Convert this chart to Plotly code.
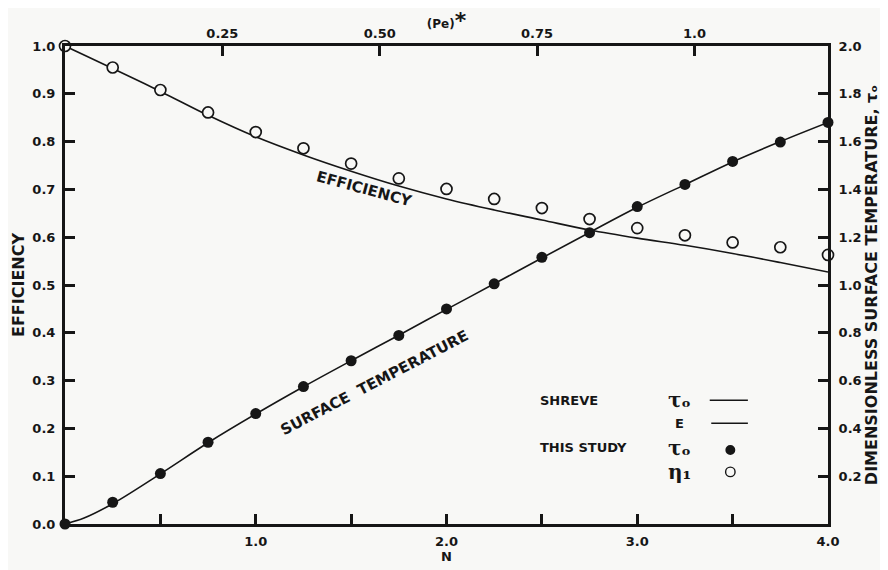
import plotly.graph_objects as go

# ---- data ----
N_pts = [0.0, 0.25, 0.5, 0.75, 1.0, 1.25, 1.5, 1.75, 2.0, 2.25, 2.5, 2.75, 3.0, 3.25, 3.5, 3.75, 4.0]
eta1_study = [1.0, 0.955, 0.908, 0.861, 0.820, 0.786, 0.754, 0.723, 0.701, 0.680, 0.661, 0.638,
              0.619, 0.604, 0.589, 0.579, 0.563]
tau0_study = [0.0, 0.091, 0.211, 0.342, 0.462, 0.575, 0.683, 0.789, 0.900, 1.005, 1.116, 1.219,
              1.328, 1.421, 1.517, 1.598, 1.680]

shreve_N = [0.0, 0.1, 0.25, 0.5, 0.75, 1.0, 1.25, 1.5, 1.75, 2.0, 2.25, 2.5, 2.75, 3.0, 3.25, 3.5, 3.75, 4.0]
shreve_tau0 = [0.0, 0.025, 0.085, 0.210, 0.340, 0.460, 0.574, 0.683, 0.790, 0.898, 1.005, 1.113,
               1.220, 1.325, 1.420, 1.515, 1.600, 1.680]
shreve_E = [1.0, 0.981, 0.953, 0.905, 0.855, 0.810, 0.772, 0.738, 0.707, 0.680, 0.657, 0.636,
            0.615, 0.598, 0.583, 0.566, 0.547, 0.527]

N_tickvals = [1.0, 2.0, 3.0, 4.0]
N_ticktext = ["1.0", "2.0", "3.0", "4.0"]
N_minorvals = [0.5, 1.5, 2.5, 3.5]
eff_tickvals = [0.0, 0.1, 0.2, 0.3, 0.4, 0.5, 0.6, 0.7, 0.8, 0.9, 1.0]
eff_ticktext = ["0.0", "0.1", "0.2", "0.3", "0.4", "0.5", "0.6", "0.7", "0.8", "0.9", "1.0"]
tau_tickvals = [0.2, 0.4, 0.6, 0.8, 1.0, 1.2, 1.4, 1.6, 1.8, 2.0]
tau_ticktext = ["0.2", "0.4", "0.6", "0.8", "1.0", "1.2", "1.4", "1.6", "1.8", "2.0"]
pe_tickvals = [0.25, 0.50, 0.75, 1.0]
pe_ticktext = ["0.25", "0.50", "0.75", "1.0"]
N_PER_PE = 3.3  # N value at (Pe)* = 1.0

INK = "#161616"
BG = "#f8f8f6"
FONT = "DejaVu Sans"

fig = go.Figure()

fig.add_trace(go.Scatter(x=shreve_N, y=shreve_E, mode="lines", line=dict(color=INK, width=1.6, shape="spline"),
                         xaxis="x", yaxis="y", showlegend=False, hoverinfo="skip"))
fig.add_trace(go.Scatter(x=shreve_N, y=shreve_tau0, mode="lines", line=dict(color=INK, width=1.6, shape="spline"),
                         xaxis="x", yaxis="y2", showlegend=False, hoverinfo="skip"))
fig.add_trace(go.Scatter(x=N_pts, y=eta1_study, mode="markers",
                         marker=dict(symbol="circle", size=11, color=BG, line=dict(color=INK, width=1.7)),
                         xaxis="x", yaxis="y", showlegend=False, cliponaxis=False))
fig.add_trace(go.Scatter(x=N_pts, y=tau0_study, mode="markers",
                         marker=dict(symbol="circle", size=11, color=INK, line=dict(width=0)),
                         xaxis="x", yaxis="y2", showlegend=False, cliponaxis=False))
# invisible trace to activate the top (Pe)* axis
fig.add_trace(go.Scatter(x=pe_tickvals, y=[None] * len(pe_tickvals), mode="markers",
                         xaxis="x2", yaxis="y", showlegend=False, hoverinfo="skip"))

axis_common = dict(showgrid=False, zeroline=False, showline=True, linecolor=INK, linewidth=3,
                   ticks="inside", ticklen=10, tickwidth=2.5, tickcolor=INK,
                   tickfont=dict(family=FONT, size=13, color=INK, weight="bold"))

fig.update_layout(
    width=880, height=562,
    margin=dict(l=57, r=60, t=38, b=46, autoexpand=False),
    paper_bgcolor=BG, plot_bgcolor=BG,
    font=dict(family=FONT, color=INK, weight="bold"),
    xaxis=dict(range=[0, 4], tickvals=N_tickvals, ticktext=N_ticktext, ticklabelstandoff=3,
               minor=dict(tickvals=N_minorvals, ticks="inside", ticklen=10, tickwidth=2.5, tickcolor=INK,
                          showgrid=False),
               title=dict(text="N", font=dict(family=FONT, size=13, color=INK, weight="bold"), standoff=2),
               **axis_common),
    xaxis2=dict(range=[0, 4 / N_PER_PE], overlaying="x", side="top", tickvals=pe_tickvals, ticktext=pe_ticktext,
                title=dict(text="(Pe)<span style='font-size:22px'>*</span>",
                           font=dict(family=FONT, size=12, color=INK, weight="bold"), standoff=12),
                **axis_common),
    yaxis=dict(range=[0, 1], tickvals=eff_tickvals, ticktext=eff_ticktext, ticklabelstandoff=4,
               title=dict(text="EFFICIENCY", font=dict(family=FONT, size=16, color=INK, weight="bold"), standoff=4),
               **axis_common),
    yaxis2=dict(range=[0, 2], overlaying="y", side="right", tickvals=tau_tickvals, ticktext=tau_ticktext,
                ticklabelstandoff=5,
                title=dict(text="DIMENSIONLESS SURFACE TEMPERATURE, τₒ",
                           font=dict(family=FONT, size=16, color=INK, weight="bold"), standoff=2),
                **axis_common),
)

fig.add_annotation(x=1.57, y=0.700, xref="x", yref="y", text="EFFICIENCY", textangle=15, showarrow=False,
                   font=dict(family=FONT, size=15, color=INK, weight="bold"))
fig.add_annotation(x=1.62, y=0.295, xref="x", yref="y", text="SURFACE  TEMPERATURE", textangle=-27.5,
                   showarrow=False, font=dict(family=FONT, size=15, color=INK, weight="bold"))

# legend block
lf = dict(family=FONT, size=13, color=INK, weight="bold")
sf = dict(family="DejaVu Serif", size=20, color=INK)
legend_texts = [
    (0.620, 0.259, "SHREVE", "left", lf),
    (0.788, 0.259, "τₒ", "left", sf),
    (0.806, 0.211, "E", "center", lf),
    (0.620, 0.159, "THIS STUDY", "left", lf),
    (0.788, 0.159, "τₒ", "left", sf),
    (0.788, 0.109, "η₁", "left", sf),
]
for lx, ly, txt, xa, f in legend_texts:
    fig.add_annotation(x=lx, y=ly, xref="paper", yref="paper", text=txt, showarrow=False,
                       xanchor=xa, yanchor="middle", font=f)

fig.add_shape(type="line", xref="paper", yref="paper", x0=0.845, x1=0.895, y0=0.259, y1=0.259,
              line=dict(color=INK, width=1.5))
fig.add_shape(type="line", xref="paper", yref="paper", x0=0.847, x1=0.895, y0=0.211, y1=0.211,
              line=dict(color=INK, width=1.5))
fig.add_shape(type="circle", xref="paper", yref="paper", x0=0.872 - 0.0065, x1=0.872 + 0.0065,
              y0=0.155 - 0.0104, y1=0.155 + 0.0104, fillcolor=INK, line=dict(width=0))
fig.add_shape(type="circle", xref="paper", yref="paper", x0=0.872 - 0.0062, x1=0.872 + 0.0062,
              y0=0.109 - 0.0099, y1=0.109 + 0.0099, fillcolor="rgba(0,0,0,0)", line=dict(color=INK, width=1.4))

fig.write_html("out.html")
